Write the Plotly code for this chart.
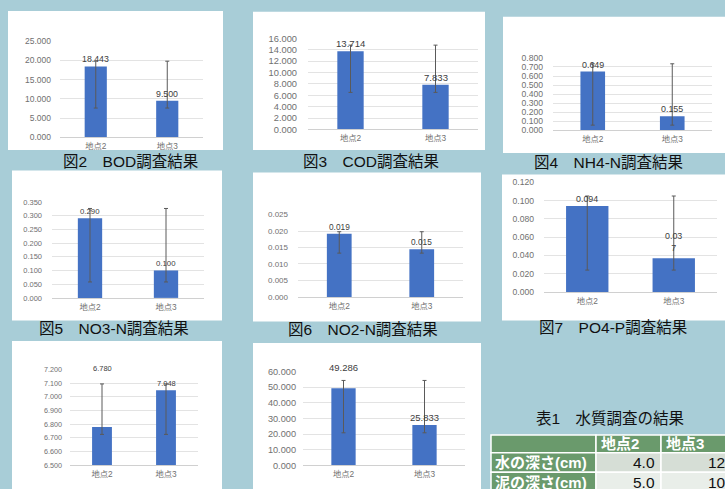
import plotly.graph_objects as go

W, H = 725, 489
FONT = "Liberation Sans, Noto Sans CJK JP, sans-serif"

categories = ["地点2", "地点3"]

# Fig 2 BOD
bod_values = [18.443, 9.500]
bod_hi = [19.8, 19.8]
bod_lo = [7.6, 7.6]
# Fig 3 COD
cod_values = [13.714, 7.833]
cod_hi = [14.8, 14.8]
cod_lo = [6.5, 6.5]
# Fig 4 NH4-N
nh4_values = [0.649, 0.155]
nh4_hi = [0.735, 0.735]
nh4_lo = [0.058, 0.058]
# Fig 5 NO3-N
no3_values = [0.290, 0.100]
no3_hi = [0.326, 0.326]
no3_lo = [0.058, 0.058]
# Fig 6 NO2-N
no2_values = [0.019, 0.015]
no2_plot = [0.0192, 0.0145]
no2_hi = [0.0198, 0.0198]
no2_lo = [0.0133, 0.0133]
# Fig 7 PO4-P
po4_values = [0.094, 0.037]
po4_labels = ["0.094", "0.03<br>7"]
po4_label_y = [0.094, 0.041]
po4_hi = [0.105, 0.105]
po4_lo = [0.024, 0.024]
# pH
ph_values = [6.780, 7.048]
ph_label_y = [7.157, 7.048]
ph_hi = [7.094, 7.094]
ph_lo = [6.726, 6.726]
# 8th chart
ch8_values = [49.286, 25.833]
ch8_label_y = [57.5, 25.833]
ch8_hi = [54.2, 54.2]
ch8_lo = [20.8, 20.8]

captions = ["図2　BOD調査結果", "図3　COD調査結果", "図4　NH4-N調査結果",
            "図5　NO3-N調査結果", "図6　NO2-N調査結果", "図7　PO4-P調査結果"]

table_title = "表1　水質調査の結果"
table_cols = ["地点2", "地点3"]
table_rows = ["水の深さ(cm)", "泥の深さ(cm)"]
table_vals = [["4.0", "12.0"], ["5.0", "10.0"]]


def px(x):
    return x / W


def py(y):
    return 1 - y / H


panels = [
    dict(v=bod_values, hi=bod_hi, lo=bod_lo, rng=[0, 25], dt=5, fmt=".3f",
         xd=[60, 203], yd=[135, 37], box=[8, 6, 223, 148], bw=0.31, fs=8.5, so=8),
    dict(v=cod_values, hi=cod_hi, lo=cod_lo, rng=[0, 16], dt=2, fmt=".3f",
         xd=[308, 478], yd=[127, 34], box=[253, 7, 485, 148], bw=0.31, fs=9.3, so=10),
    dict(v=nh4_values, hi=nh4_hi, lo=nh4_lo, rng=[0, 0.8], dt=0.1, fmt=".3f",
         xd=[553, 712], yd=[128, 54], box=[503, 12, 735, 151], bw=0.31, fs=8.6, so=9),
    dict(v=no3_values, hi=no3_hi, lo=no3_lo, rng=[0, 0.35], dt=0.05, fmt=".3f",
         xd=[52, 204], yd=[299, 201], box=[12, 169, 222, 322], bw=0.32, fs=7.5, so=9),
    dict(v=no2_plot, lab=[f"{v:.3f}" for v in no2_values], hi=no2_hi, lo=no2_lo,
         rng=[0, 0.025], dt=0.005, fmt=".3f",
         xd=[298, 463], yd=[298, 214], box=[253, 171, 481, 323], bw=0.30, fs=8, so=9),
    dict(v=po4_values, lab=po4_labels, ly=po4_label_y, hi=po4_hi, lo=po4_lo,
         rng=[0, 0.12], dt=0.02, fmt=".3f",
         xd=[544, 717], yd=[293, 181], box=[502, 173, 735, 322], bw=0.49, fs=8.6, so=9),
    dict(v=ph_values, ly=ph_label_y, hi=ph_hi, lo=ph_lo, rng=[6.5, 7.2], dt=0.1, fmt=".3f",
         xd=[70, 198], yd=[470, 372], box=[12, 343, 222, 500], bw=0.31, fs=7.2, so=7),
    dict(v=ch8_values, ly=ch8_label_y, hi=ch8_hi, lo=ch8_lo, rng=[0, 60], dt=10, fmt=".3f",
         xd=[303, 465], yd=[470, 374], box=[253, 345, 481, 500], bw=0.30, fs=9.2, so=6),
]

fig = go.Figure()
shapes = []
annotations = []
layout_axes = {}

for i, p in enumerate(panels, start=1):
    xa = "x" if i == 1 else f"x{i}"
    ya = "y" if i == 1 else f"y{i}"
    xkey = "xaxis" if i == 1 else f"xaxis{i}"
    ykey = "yaxis" if i == 1 else f"yaxis{i}"
    b = p["box"]
    shapes.append(dict(type="rect", xref="paper", yref="paper",
                       x0=px(b[0]), x1=px(b[2]), y0=py(b[3]), y1=py(b[1]),
                       fillcolor="white", line=dict(width=0), layer="below"))
    err_plus = [h - v for h, v in zip(p["hi"], p["v"])]
    err_minus = [v - l for v, l in zip(p["v"], p["lo"])]
    fig.add_trace(go.Bar(
        x=categories, y=p["v"], xaxis=xa, yaxis=ya, width=p["bw"],
        marker=dict(color="#4472C4", line=dict(width=0)),
        error_y=dict(type="data", symmetric=False, array=err_plus, arrayminus=err_minus,
                     color="#5a5a5a", thickness=1, width=2),
        showlegend=False, hoverinfo="skip"))
    labels = p.get("lab", [format(v, p["fmt"]) for v in p["v"]])
    ly = p.get("ly", p["v"])
    for c, t, yv in zip(categories, labels, ly):
        annotations.append(dict(x=c, y=yv, xref=xa, yref=ya, text=t, showarrow=False,
                                yanchor="bottom", yshift=0,
                                font=dict(family=FONT, size=p["fs"] + 0.3, color="#404040")))
    layout_axes[xkey] = dict(domain=[px(p["xd"][0]), px(p["xd"][1])], anchor=ya,
                             type="category", showgrid=False, showline=True,
                             linecolor="#d0d0d0", linewidth=1, zeroline=False,
                             tickfont=dict(family=FONT, size=8.3, color="#707070"),
                             ticks="", ticklabelstandoff=1, fixedrange=True)
    layout_axes[ykey] = dict(domain=[py(p["yd"][0]), py(p["yd"][1])], anchor=xa,
                             range=p["rng"], dtick=p["dt"], tick0=p["rng"][0],
                             tickformat=p["fmt"], showgrid=True, gridcolor="#e3e3e3",
                             gridwidth=1, zeroline=False, showline=False, ticks="",
                             tickfont=dict(family=FONT, size=p["fs"], color="#707070"),
                             ticklabelstandoff=p["so"], fixedrange=True)

cap_pos = [(130, 160), (371, 160), (608, 161), (114, 330), (363, 331), (613, 329)]
for t, (cx, cy) in zip(captions, cap_pos):
    annotations.append(dict(x=px(cx), y=py(cy), xref="paper", yref="paper", text=t,
                            showarrow=False, xanchor="center", yanchor="middle",
                            font=dict(family=FONT, size=15.5, color="#111111")))

# Table
annotations.append(dict(x=px(610), y=py(422), xref="paper", yref="paper", text=table_title,
                        showarrow=False, xanchor="center", yanchor="middle",
                        font=dict(family=FONT, size=15.5, color="#111111")))
col_x = [491, 596, 661, 745]
row_y = [439, 457, 477, 497]
green = "#6a9a6c"
row_fill = ["#d6ded6", "#e9eee9"]
for r in range(3):
    for c in range(3):
        if r == 0 or c == 0:
            fill = green
        else:
            fill = row_fill[r - 1]
        shapes.append(dict(type="rect", xref="paper", yref="paper",
                           x0=px(col_x[c]), x1=px(col_x[c + 1]),
                           y0=py(row_y[r + 1]), y1=py(row_y[r]),
                           fillcolor=fill, line=dict(color="white", width=1.5)))
for c, t in enumerate(table_cols, start=1):
    annotations.append(dict(x=px(col_x[c] + 3), y=py((row_y[0] + row_y[1]) / 2), xref="paper",
                            yref="paper", text=f"<b>{t}</b>", showarrow=False,
                            xanchor="left", yanchor="middle",
                            font=dict(family=FONT, size=15, color="white")))
for r, t in enumerate(table_rows, start=1):
    annotations.append(dict(x=px(col_x[0] + 2), y=py((row_y[r] + row_y[r + 1]) / 2), xref="paper",
                            yref="paper", text=f"<b>{t}</b>", showarrow=False,
                            xanchor="left", yanchor="middle",
                            font=dict(family=FONT, size=15, color="white")))
    for c in range(2):
        annotations.append(dict(x=px(col_x[c + 2] - 4), y=py((row_y[r] + row_y[r + 1]) / 2),
                                xref="paper", yref="paper", text=table_vals[r - 1][c],
                                showarrow=False, xanchor="right", yanchor="middle",
                                font=dict(family=FONT, size=15.5, color="#111111")))

fig.update_layout(width=W, height=H, margin=dict(l=0, r=0, t=0, b=0),
                  paper_bgcolor="#a8cdd7", plot_bgcolor="rgba(0,0,0,0)",
                  shapes=shapes, annotations=annotations, bargap=0.5,
                  **layout_axes)
fig.write_html("out.html", config=dict(displayModeBar=False))
